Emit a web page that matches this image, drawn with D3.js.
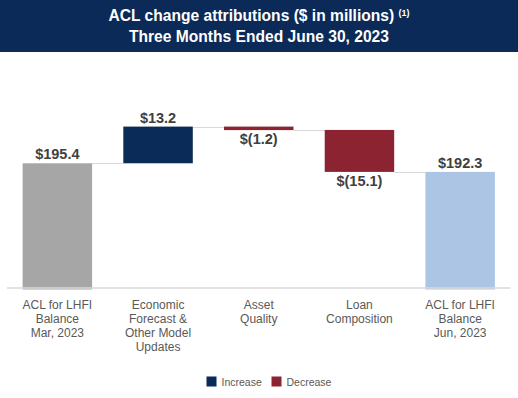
<!DOCTYPE html>
<html>
<head>
<meta charset="utf-8">
<script src="https://cdn.jsdelivr.net/npm/d3@7"></script>
<style>
  html, body { margin: 0; padding: 0; background: #fff; }
  svg { display: block; font-family: Arial, "Liberation Sans", sans-serif; }
</style>
</head>
<body>
<div id="chart"></div>
<script>
// chart data
const categories = [
  ['ACL for LHFI', 'Balance', 'Mar, 2023'],
  ['Economic', 'Forecast &', 'Other Model', 'Updates'],
  ['Asset', 'Quality'],
  ['Loan', 'Composition'],
  ['ACL for LHFI', 'Balance', 'Jun, 2023']
];
const kinds = ['total', 'change', 'change', 'change', 'total'];
const values = [195.4, 13.2, -1.2, -15.1, 192.3];
const valueLabels = ['$195.4', '$13.2', '$(1.2)', '$(15.1)', '$192.3'];
const legendItems = ['Increase', 'Decrease'];
const yDomain = [150, 220];

const width = 518, height = 398;
const colors = { total0: '#a6a6a6', total1: '#adc5e5', up: '#0a2a57', down: '#8b2331' };

const svg = d3.select('#chart').append('svg')
  .attr('width', width)
  .attr('height', height);

// title banner
svg.append('rect')
  .attr('width', width).attr('height', 52)
  .attr('fill', '#0b2a58');

const t1 = svg.append('text')
  .attr('x', width / 2).attr('y', 21)
  .attr('text-anchor', 'middle')
  .attr('fill', '#fff').attr('font-weight', 'bold').attr('font-size', 15.6);
t1.append('tspan').text('ACL change attributions ($ in millions) ');
t1.append('tspan').attr('font-size', 9).attr('dy', -5).text('(1)');

svg.append('text')
  .attr('x', width / 2).attr('y', 42)
  .attr('text-anchor', 'middle')
  .attr('fill', '#fff').attr('font-weight', 'bold').attr('font-size', 15.6)
  .text('Three Months Ended June 30, 2023');

// build waterfall steps
let running = 0;
const steps = values.map((v, i) => {
  let start, end;
  if (kinds[i] === 'total') { start = yDomain[0]; end = v; running = v; }
  else { start = running; end = running + v; running = end; }
  return { i, v, start, end, kind: kinds[i] };
});

const x = d3.scaleBand()
  .domain(d3.range(categories.length))
  .range([7, 510.5])
  .paddingInner(0.31)
  .paddingOuter(0.155);

const y = d3.scaleLinear()
  .domain(yDomain)
  .range([289.5, 289.5 - (yDomain[1] - yDomain[0]) * 2.78]);

const bw = x.bandwidth();

function barColor(d) {
  if (d.kind === 'total') return d.i === 0 ? colors.total0 : colors.total1;
  return d.v >= 0 ? colors.up : colors.down;
}

// connectors
const levels = steps.map(d => d.end);
svg.append('g').selectAll('line')
  .data(steps.slice(0, -1))
  .join('line')
  .attr('x1', d => x(d.i) + bw)
  .attr('x2', d => x(d.i + 1))
  .attr('y1', d => Math.round(y(levels[d.i])) + 0.5)
  .attr('y2', d => Math.round(y(levels[d.i])) + 0.5)
  .attr('stroke', '#d9d9d9')
  .attr('stroke-width', 1);

// bars
svg.append('g').selectAll('rect')
  .data(steps)
  .join('rect')
  .attr('x', d => x(d.i))
  .attr('width', bw)
  .attr('y', d => y(Math.max(d.start, d.end)))
  .attr('height', d => Math.max(3.5, Math.abs(y(d.start) - y(d.end))))
  .attr('fill', barColor);

// axis baseline
svg.append('line')
  .attr('x1', x.range()[0]).attr('x2', x.range()[1])
  .attr('y1', y(yDomain[0]) - 1.5).attr('y2', y(yDomain[0]) - 1.5)
  .attr('stroke', '#d9d9d9').attr('stroke-width', 1.5);

// value labels
svg.append('g').selectAll('text')
  .data(steps)
  .join('text')
  .attr('x', d => x(d.i) + bw / 2)
  .attr('y', d => {
    if (d.kind === 'total' || d.v >= 0) return y(Math.max(d.start, d.end)) - 4;
    return y(Math.min(d.start, d.end)) + 14;
  })
  .attr('text-anchor', 'middle')
  .attr('font-size', 14.5)
  .attr('font-weight', 'bold')
  .attr('fill', '#404040')
  .text(d => valueLabels[d.i]);

// category labels
const cat = svg.append('g').selectAll('text')
  .data(categories)
  .join('text')
  .attr('x', (d, i) => x(i) + bw / 2)
  .attr('y', 308.5)
  .attr('text-anchor', 'middle')
  .attr('font-size', 12)
  .attr('fill', '#595959');
cat.selectAll('tspan')
  .data((d, i) => d.map(s => ({ s, i })))
  .join('tspan')
  .attr('x', d => x(d.i) + bw / 2)
  .attr('dy', (d, j) => j === 0 ? 0 : 14)
  .text(d => d.s);

// legend
const legColors = [colors.up, colors.down];
const legX = [206.5, 271.5];
const leg = svg.append('g').selectAll('g')
  .data(legendItems)
  .join('g')
  .attr('transform', (d, i) => `translate(${legX[i]},376.5)`);
leg.append('rect')
  .attr('width', 10).attr('height', 10)
  .attr('fill', (d, i) => legColors[i]);
leg.append('text')
  .attr('x', 15).attr('y', 9)
  .attr('font-size', 10.5)
  .attr('fill', '#595959')
  .text(d => d);
</script>
</body>
</html>
